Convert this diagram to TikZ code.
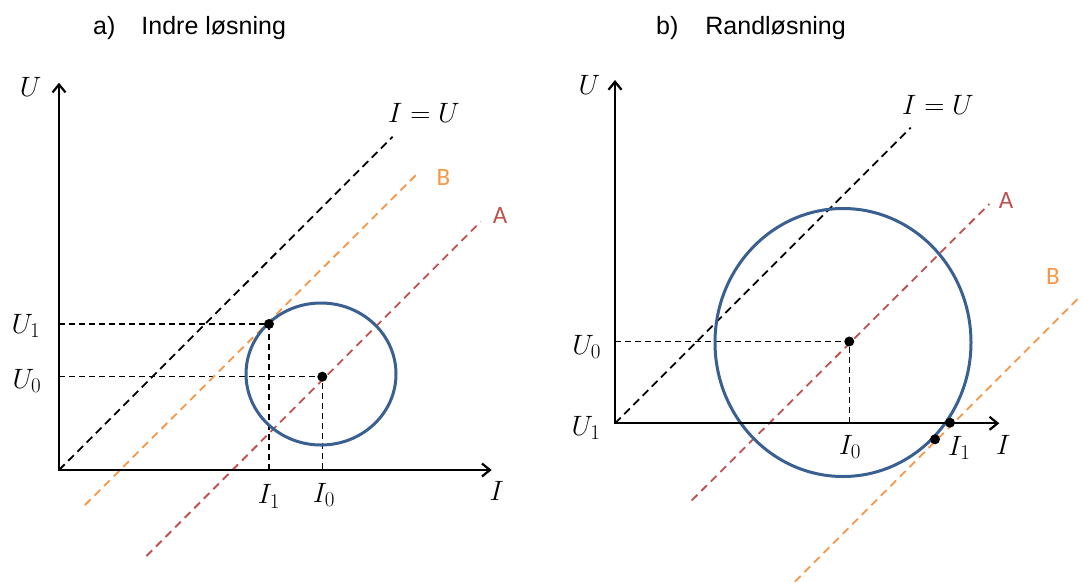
\RequirePackage{fix-cm}
\documentclass[tikz,border=0pt]{standalone}
\usepackage[no-math]{fontspec}
\setmainfont{Liberation Sans}
\newfontfamily\calib{Carlito}
\DeclareMathSizes{28}{28}{21}{16}
\usetikzlibrary{arrows.meta}
\definecolor{cblue}{RGB}{58,95,145}
\definecolor{corange}{RGB}{247,150,70}
\definecolor{cred}{RGB}{192,80,77}
\begin{document}
\begin{tikzpicture}[x=1pt,y=-1pt,
  axis/.style={line width=2.2pt,{Straight Barb[length=8pt,width=13pt]}-{Straight Barb[length=8pt,width=13pt]}},
  guide/.style={line width=1.5pt,dash pattern=on 6pt off 4pt},
  diag/.style={line width=1.8pt,dash pattern=on 8pt off 5.5pt},
  ring/.style={draw=cblue,line width=3pt},
  dot/.style={fill=black},
  title/.style={inner sep=0pt,anchor=base west,font=\fontsize{25}{30}\selectfont},
  mlab/.style={inner sep=0pt,font=\fontsize{28}{32}\selectfont},
  clab/.style={inner sep=0pt,font=\calib\fontsize{25}{30}\selectfont}]
\useasboundingbox (0,0) rectangle (1082,582);

% ---------------- panel a ----------------
\node[title] (ta) at (93,34.6) {a)\hspace{26pt}Indre løsning};
\coordinate (ao) at (59,470);
\coordinate (ay) at (59,82.7);
\coordinate (ax) at (491.7,470);
\coordinate (ap1) at (269,324);
\coordinate (ac) at (322.3,376.7);
\coordinate (au1) at (59,324);
\coordinate (ai1) at (269,470);
\coordinate (au0) at (59,376.7);
\coordinate (ai0) at (322.3,470);
\coordinate (aE) at (392.7,136.7);
\coordinate (aBs) at (85,505);
\coordinate (aBe) at (419.3,171.7);
\coordinate (aAs) at (146.5,556);
\coordinate (aAe) at (480.7,221.7);

\draw[guide] (au1) -- (ap1) -- (ai1);
\draw[guide] (au0) -- (ac) -- (ai0);
\draw[guide,line width=1.8pt,dash pattern=on 8pt off 5pt] (ao) -- (aE);
\draw[diag,corange] (aBs) -- (aBe);
\draw[diag,cred] (aAs) -- (aAe);
\draw[ring] (321,374) ellipse [x radius=75pt,y radius=71pt];
\draw[axis] (ay) -- (ao) -- (ax);
\fill[dot] (ap1) circle[radius=5pt];
\fill[dot] (ac) circle[radius=5pt];

\node[mlab] (aU) at (30.7,86.7) {$U$};
\node[mlab] (aI) at (496.7,490.7) {$I$};
\node[mlab] (aIU) at (424,113.3) {$I=U$};
\node[mlab] (aU1) at (26,326) {$U_1$};
\node[mlab] (aU0) at (27,381) {$U_0$};
\node[mlab] (aI1) at (269,496.5) {$I_1$};
\node[mlab] (aI0) at (324,495) {$I_0$};
\node[clab,text=corange] (aB) at (443.3,177.3) {B};
\node[clab,text=cred] (aA) at (500,215) {A};

% ---------------- panel b ----------------
\node[title] (tb) at (656,34.6) {b)\hspace{27pt}Randløsning};
\coordinate (bo) at (615,423.3);
\coordinate (by) at (615,80);
\coordinate (bx) at (999.3,423.3);
\coordinate (bc) at (849.3,341.5);
\coordinate (bu0) at (615,341.5);
\coordinate (bi0) at (849.3,423.3);
\coordinate (bE) at (910.7,127.6);
\coordinate (bAs) at (691.7,500.5);
\coordinate (bAe) at (989.3,204);
\coordinate (bBs) at (795,581.7);
\coordinate (bBe) at (1081,295.7);
\coordinate (bp1) at (950,422.7);
\coordinate (bp2) at (935,439.3);

\draw[guide] (bu0) -- (bc) -- (bi0);
\draw[guide,line width=1.8pt,dash pattern=on 8pt off 5pt] (bo) -- (bE);
\draw[diag,cred] (bAs) -- (bAe);
\draw[diag,corange] (bBs) -- (bBe);
\draw[ring] (843,342.5) ellipse [x radius=128pt,y radius=134pt];
\draw[axis] (by) -- (bo) -- (bx);
\fill[dot] (bc) circle[radius=5pt];
\fill[dot] (bp1) circle[radius=5pt];
\fill[dot] (bp2) circle[radius=5pt];

\node[mlab] (bU) at (589.3,85) {$U$};
\node[mlab] (bI) at (1003.3,445) {$I$};
\node[mlab] (bIU) at (938,105) {$I=U$};
\node[mlab] (bU0) at (586.7,346.7) {$U_0$};
\node[mlab] (bU1) at (586,428.3) {$U_1$};
\node[mlab] (bI0) at (850,446.7) {$I_0$};
\node[mlab] (bI1) at (959.3,448.3) {$I_1$};
\node[clab,text=cred] (bA) at (1006,200) {A};
\node[clab,text=corange] (bB) at (1053,276) {B};
\end{tikzpicture}
\end{document}
